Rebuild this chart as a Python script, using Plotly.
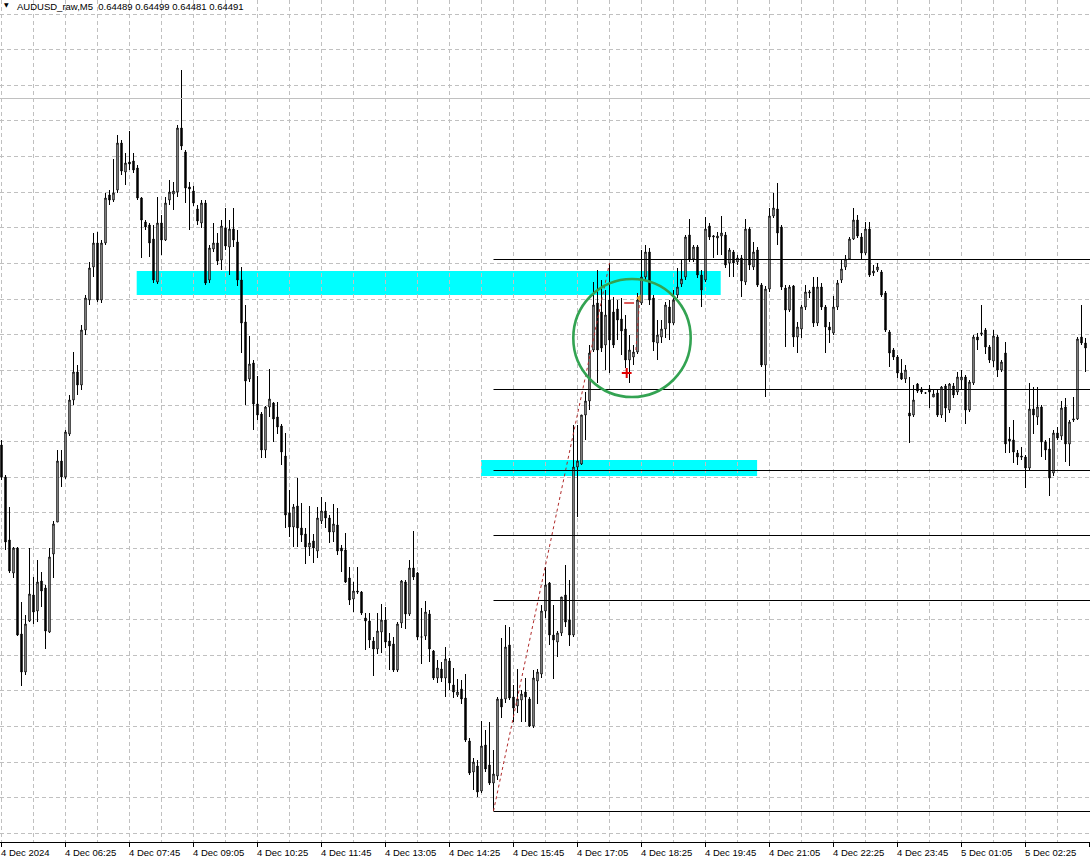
import plotly.graph_objects as go

# ---- data: AUDUSD M5 candles (bar index 0 = 4 Dec 05:05) ----
bar_index = list(range(272))

open_ = [
0.64555,0.64523,0.64460,0.64427,0.64452,0.64366,0.64328,0.64379,0.64405,0.64389,
0.64419,0.64412,0.64368,0.64446,0.64478,0.64539,0.64523,0.64566,0.64600,0.64628,
0.64615,0.64670,0.64700,0.64733,0.64757,0.64700,0.64757,0.64805,0.64800,0.64810,
0.64857,0.64828,0.64838,0.64839,0.64832,0.64802,0.64778,0.64775,0.64761,0.64718,
0.64777,0.64760,0.64800,0.64806,0.64808,0.64872,0.64848,0.64813,0.64809,0.64791,
0.64777,0.64797,0.64720,0.64751,0.64757,0.64740,0.64772,0.64753,0.64771,0.64758,
0.64720,0.64678,0.64621,0.64637,0.64596,0.64586,0.64550,0.64593,0.64597,0.64583,
0.64574,0.64544,0.64487,0.64473,0.64494,0.64472,0.64466,0.64453,0.64459,0.64449,
0.64479,0.64489,0.64482,0.64468,0.64475,0.64452,0.64450,0.64422,0.64401,0.64409,
0.64408,0.64382,0.64379,0.64359,0.64351,0.64368,0.64380,0.64359,0.64356,0.64330,
0.64377,0.64418,0.64386,0.64432,0.64427,0.64363,0.64364,0.64386,0.64349,0.64322,
0.64331,0.64322,0.64339,0.64315,0.64305,0.64311,0.64302,0.64259,0.64228,0.64234,
0.64209,0.64255,0.64235,0.64217,0.64224,0.64301,0.64301,0.64355,0.64303,0.64294,
0.64300,0.64308,0.64301,0.64274,0.64319,0.64326,0.64389,0.64417,0.64365,0.64358,
0.64367,0.64405,0.64380,0.64365,0.64533,0.64536,0.64585,0.64599,0.64650,0.64697,
0.64688,0.64655,0.64700,0.64688,0.64691,0.64681,0.64671,0.64640,0.64643,0.64648,
0.64697,0.64723,0.64748,0.64702,0.64657,0.64663,0.64671,0.64693,0.64677,0.64705,
0.64716,0.64723,0.64765,0.64741,0.64753,0.64725,0.64720,0.64774,0.64763,0.64762,
0.64764,0.64765,0.64737,0.64748,0.64738,0.64742,0.64718,0.64771,0.64733,0.64750,
0.64715,0.64635,0.64711,0.64784,0.64791,0.64773,0.64712,0.64690,0.64714,0.64663,
0.64671,0.64693,0.64707,0.64713,0.64677,0.64713,0.64693,0.64673,0.64667,0.64693,
0.64720,0.64733,0.64741,0.64761,0.64780,0.64763,0.64747,0.64771,0.64727,0.64730,
0.64728,0.64707,0.64668,0.64650,0.64643,0.64627,0.64621,0.64587,0.64585,0.64616,
0.64611,0.64607,0.64611,0.64603,0.64607,0.64585,0.64614,0.64590,0.64614,0.64608,
0.64620,0.64623,0.64590,0.64617,0.64663,0.64666,0.64670,0.64653,0.64639,0.64663,
0.64630,0.64647,0.64561,0.64560,0.64547,0.64544,0.64543,0.64532,0.64591,0.64583,
0.64593,0.64558,0.64551,0.64527,0.64567,0.64564,0.64593,0.64556,0.64580,0.64581,
0.64663,0.64657]

high = [
0.64560,0.64525,0.64493,0.64453,0.64453,0.64398,0.64385,0.64452,0.64423,0.64440,
0.64428,0.64415,0.64452,0.64479,0.64550,0.64550,0.64570,0.64605,0.64648,0.64635,
0.64675,0.64705,0.64738,0.64767,0.64768,0.64760,0.64807,0.64810,0.64841,0.64865,
0.64860,0.64847,0.64869,0.64847,0.64835,0.64803,0.64780,0.64777,0.64775,0.64803,
0.64785,0.64803,0.64820,0.64818,0.64875,0.64930,0.64850,0.64818,0.64814,0.64795,
0.64800,0.64800,0.64755,0.64777,0.64767,0.64780,0.64792,0.64780,0.64792,0.64770,
0.64733,0.64695,0.64664,0.64640,0.64624,0.64588,0.64594,0.64631,0.64598,0.64598,
0.64576,0.64567,0.64510,0.64496,0.64522,0.64497,0.64472,0.64494,0.64466,0.64493,
0.64503,0.64498,0.64485,0.64496,0.64492,0.64455,0.64467,0.64433,0.64418,0.64433,
0.64409,0.64387,0.64387,0.64363,0.64387,0.64396,0.64393,0.64367,0.64363,0.64378,
0.64420,0.64420,0.64440,0.64469,0.64428,0.64392,0.64399,0.64390,0.64350,0.64340,
0.64338,0.64353,0.64342,0.64332,0.64321,0.64320,0.64326,0.64262,0.64242,0.64240,
0.64279,0.64270,0.64278,0.64250,0.64303,0.64362,0.64375,0.64373,0.64315,0.64331,
0.64310,0.64322,0.64303,0.64330,0.64331,0.64395,0.64433,0.64418,0.64395,0.64369,
0.64403,0.64435,0.64420,0.64575,0.64575,0.64585,0.64608,0.64655,0.64718,0.64730,
0.64720,0.64710,0.64737,0.64703,0.64700,0.64702,0.64685,0.64665,0.64655,0.64707,
0.64750,0.64755,0.64752,0.64705,0.64680,0.64680,0.64698,0.64700,0.64710,0.64732,
0.64741,0.64765,0.64781,0.64755,0.64755,0.64730,0.64783,0.64777,0.64765,0.64768,
0.64784,0.64768,0.64752,0.64750,0.64745,0.64745,0.64781,0.64773,0.64758,0.64753,
0.64717,0.64714,0.64792,0.64807,0.64817,0.64775,0.64715,0.64715,0.64715,0.64678,
0.64695,0.64715,0.64710,0.64723,0.64723,0.64717,0.64695,0.64678,0.64704,0.64720,
0.64740,0.64745,0.64763,0.64792,0.64785,0.64767,0.64778,0.64778,0.64735,0.64737,
0.64730,0.64709,0.64670,0.64652,0.64645,0.64641,0.64635,0.64623,0.64615,0.64617,
0.64613,0.64608,0.64615,0.64610,0.64610,0.64614,0.64616,0.64617,0.64617,0.64628,
0.64630,0.64625,0.64620,0.64665,0.64667,0.64695,0.64672,0.64655,0.64670,0.64665,
0.64640,0.64658,0.64573,0.64580,0.64550,0.64553,0.64545,0.64617,0.64613,0.64613,
0.64595,0.64560,0.64562,0.64570,0.64573,0.64599,0.64602,0.64580,0.64603,0.64663,
0.64695,0.64662]

low = [
0.64520,0.64450,0.64427,0.64422,0.64364,0.64314,0.64325,0.64378,0.64376,0.64378,
0.64393,0.64351,0.64367,0.64422,0.64478,0.64513,0.64521,0.64564,0.64595,0.64605,
0.64610,0.64665,0.64695,0.64723,0.64698,0.64697,0.64755,0.64795,0.64798,0.64807,
0.64825,0.64815,0.64830,0.64827,0.64800,0.64742,0.64770,0.64743,0.64717,0.64716,
0.64745,0.64759,0.64795,0.64790,0.64803,0.64850,0.64797,0.64770,0.64794,0.64775,
0.64772,0.64715,0.64717,0.64748,0.64735,0.64730,0.64750,0.64725,0.64753,0.64714,
0.64647,0.64595,0.64618,0.64570,0.64580,0.64542,0.64542,0.64583,0.64558,0.64566,
0.64535,0.64472,0.64463,0.64453,0.64453,0.64458,0.64436,0.64444,0.64437,0.64442,
0.64476,0.64472,0.64457,0.64458,0.64445,0.64428,0.64417,0.64395,0.64388,0.64406,
0.64385,0.64350,0.64352,0.64324,0.64346,0.64347,0.64352,0.64330,0.64328,0.64328,
0.64372,0.64371,0.64384,0.64420,0.64360,0.64336,0.64360,0.64338,0.64320,0.64317,
0.64318,0.64303,0.64310,0.64302,0.64303,0.64296,0.64258,0.64225,0.64210,0.64203,
0.64207,0.64228,0.64215,0.64189,0.64220,0.64282,0.64297,0.64300,0.64278,0.64287,
0.64278,0.64278,0.64273,0.64272,0.64296,0.64322,0.64382,0.64355,0.64321,0.64343,
0.64364,0.64373,0.64354,0.64363,0.64483,0.64535,0.64560,0.64590,0.64648,0.64617,
0.64648,0.64630,0.64627,0.64652,0.64660,0.64645,0.64632,0.64617,0.64635,0.64646,
0.64695,0.64720,0.64695,0.64649,0.64640,0.64657,0.64662,0.64660,0.64675,0.64702,
0.64713,0.64720,0.64738,0.64738,0.64722,0.64693,0.64718,0.64760,0.64742,0.64745,
0.64745,0.64732,0.64723,0.64723,0.64735,0.64703,0.64715,0.64730,0.64730,0.64713,
0.64633,0.64603,0.64708,0.64782,0.64755,0.64710,0.64653,0.64688,0.64653,0.64647,
0.64662,0.64690,0.64702,0.64673,0.64674,0.64690,0.64647,0.64657,0.64665,0.64690,
0.64717,0.64730,0.64740,0.64760,0.64762,0.64741,0.64745,0.64723,0.64724,0.64728,
0.64703,0.64668,0.64633,0.64640,0.64622,0.64620,0.64617,0.64557,0.64583,0.64607,
0.64606,0.64606,0.64592,0.64603,0.64583,0.64582,0.64578,0.64587,0.64602,0.64605,
0.64610,0.64576,0.64588,0.64615,0.64650,0.64664,0.64646,0.64637,0.64633,0.64623,
0.64628,0.64547,0.64547,0.64537,0.64535,0.64540,0.64512,0.64530,0.64566,0.64575,
0.64543,0.64540,0.64504,0.64524,0.64560,0.64560,0.64538,0.64534,0.64578,0.64580,
0.64655,0.64628]

close = [
0.64523,0.64458,0.64429,0.64452,0.64365,0.64328,0.64376,0.64406,0.64388,0.64418,
0.64409,0.64369,0.64443,0.64476,0.64539,0.64523,0.64568,0.64600,0.64628,0.64615,
0.64670,0.64702,0.64732,0.64757,0.64700,0.64757,0.64802,0.64800,0.64807,0.64857,
0.64829,0.64837,0.64836,0.64830,0.64802,0.64780,0.64773,0.64757,0.64720,0.64777,
0.64760,0.64797,0.64808,0.64809,0.64872,0.64854,0.64812,0.64811,0.64797,0.64779,
0.64797,0.64717,0.64752,0.64757,0.64739,0.64774,0.64754,0.64771,0.64760,0.64720,
0.64677,0.64619,0.64636,0.64596,0.64585,0.64550,0.64593,0.64601,0.64581,0.64573,
0.64548,0.64485,0.64473,0.64493,0.64472,0.64465,0.64453,0.64457,0.64452,0.64482,
0.64489,0.64482,0.64468,0.64476,0.64449,0.64449,0.64418,0.64400,0.64409,0.64408,
0.64387,0.64379,0.64360,0.64351,0.64369,0.64380,0.64358,0.64354,0.64330,0.64376,
0.64419,0.64386,0.64432,0.64423,0.64363,0.64363,0.64388,0.64351,0.64322,0.64332,
0.64322,0.64341,0.64317,0.64308,0.64308,0.64301,0.64260,0.64227,0.64238,0.64208,
0.64254,0.64231,0.64217,0.64226,0.64301,0.64293,0.64353,0.64302,0.64292,0.64301,
0.64306,0.64303,0.64274,0.64322,0.64328,0.64389,0.64415,0.64365,0.64360,0.64367,
0.64403,0.64378,0.64365,0.64533,0.64539,0.64585,0.64599,0.64647,0.64695,0.64650,
0.64652,0.64685,0.64660,0.64655,0.64680,0.64669,0.64640,0.64650,0.64648,0.64700,
0.64723,0.64748,0.64700,0.64658,0.64665,0.64671,0.64695,0.64677,0.64700,0.64713,
0.64721,0.64763,0.64741,0.64753,0.64725,0.64710,0.64771,0.64763,0.64764,0.64764,
0.64767,0.64735,0.64750,0.64737,0.64742,0.64719,0.64771,0.64735,0.64748,0.64715,
0.64635,0.64711,0.64784,0.64792,0.64767,0.64713,0.64690,0.64713,0.64663,0.64673,
0.64693,0.64708,0.64708,0.64677,0.64713,0.64693,0.64673,0.64670,0.64693,0.64717,
0.64731,0.64741,0.64761,0.64780,0.64764,0.64747,0.64771,0.64725,0.64729,0.64733,
0.64705,0.64670,0.64647,0.64643,0.64627,0.64621,0.64630,0.64584,0.64600,0.64609,
0.64608,0.64607,0.64608,0.64606,0.64585,0.64613,0.64592,0.64616,0.64605,0.64623,
0.64623,0.64590,0.64618,0.64663,0.64660,0.64667,0.64653,0.64640,0.64664,0.64630,
0.64638,0.64556,0.64559,0.64548,0.64543,0.64543,0.64532,0.64591,0.64585,0.64593,
0.64558,0.64550,0.64522,0.64567,0.64562,0.64592,0.64556,0.64578,0.64581,0.64661,
0.64657,0.64652]

tick_bars = list(range(0, 272, 16))
tick_labels = ["4 Dec 2024", "4 Dec 06:25", "4 Dec 07:45", "4 Dec 09:05", "4 Dec 10:25",
               "4 Dec 11:45", "4 Dec 13:05", "4 Dec 14:25", "4 Dec 15:45", "4 Dec 17:05",
               "4 Dec 18:25", "4 Dec 19:45", "4 Dec 21:05", "4 Dec 22:25", "4 Dec 23:45",
               "5 Dec 01:05", "5 Dec 02:25"]

title_text = "AUDUSD_raw,M5  0.64489 0.64499 0.64481 0.64491"

# horizontal line objects (start bar, price)
level_start_bar = 123
level_prices = [0.647405, 0.646105, 0.645295, 0.644645, 0.643995, 0.641885]
silver_line_price = 0.649015

# cyan zones: (bar from, bar to, price low, price high)
zones = [(33.8, 179.8, 0.64705, 0.64729),
         (119.9, 188.9, 0.64524, 0.64540)]

# green ellipse bounds
circle_bars = (142.95, 172.3)
circle_prices = (0.64603, 0.64721)

# trade history lines and arrows
trade1_bars = [123, 152]
trade1_prices = [0.64189, 0.64737]
trade2_bars = [158.6, 159.6]
trade2_prices = [0.64650, 0.64703]
plus_marker = (156.3, 0.64627)
dash_marker = (156.9, 0.64697)
close_arrow = (159.4, 0.64702)

GRID = '#c0c0c0'
FONT = 'Liberation Sans'

fig = go.Figure()
fig.add_trace(go.Candlestick(
    x=bar_index, open=open_, high=high, low=low, close=close,
    increasing=dict(line=dict(color='black', width=1), fillcolor='white'),
    decreasing=dict(line=dict(color='black', width=1), fillcolor='black'),
    whiskerwidth=0, hoverinfo='skip', showlegend=False))

fig.add_trace(go.Scatter(x=trade1_bars, y=trade1_prices, mode='lines',
                         line=dict(color='#b02a2a', width=1, dash='dot'),
                         hoverinfo='skip', showlegend=False))
fig.add_trace(go.Scatter(x=trade2_bars, y=trade2_prices, mode='lines',
                         line=dict(color='#b02a2a', width=1, dash='dot'),
                         hoverinfo='skip', showlegend=False))
fig.add_trace(go.Scatter(x=[plus_marker[0]], y=[plus_marker[1]], mode='markers',
                         marker=dict(symbol='cross-thin', size=7, line=dict(color='#e00000', width=2)),
                         hoverinfo='skip', showlegend=False))
fig.add_trace(go.Scatter(x=[dash_marker[0]], y=[dash_marker[1]], mode='markers',
                         marker=dict(symbol='line-ew', size=7, line=dict(color='#d02020', width=1.5)),
                         hoverinfo='skip', showlegend=False))
fig.add_trace(go.Scatter(x=[close_arrow[0]], y=[close_arrow[1]], mode='markers',
                         marker=dict(symbol='triangle-left', size=6, color='#e0a030'),
                         hoverinfo='skip', showlegend=False))

shapes = []
for x0, x1, p0, p1 in zones:
    shapes.append(dict(type='rect', xref='x', yref='y', x0=x0, x1=x1, y0=p0, y1=p1,
                       fillcolor='#00ffff', line=dict(width=0), layer='below'))
shapes.append(dict(type='line', xref='paper', yref='y', x0=0, x1=1,
                   y0=silver_line_price, y1=silver_line_price,
                   line=dict(color='#c0c0c0', width=1), layer='above'))
for p in level_prices:
    shapes.append(dict(type='line', xref='x', yref='y', x0=level_start_bar, x1=272.2,
                       y0=p, y1=p, line=dict(color='black', width=1), layer='above'))
shapes.append(dict(type='circle', xref='x', yref='y', x0=circle_bars[0], x1=circle_bars[1],
                   y0=circle_prices[0], y1=circle_prices[1],
                   line=dict(color='#33a352', width=2.6), layer='above'))

annotations = []
for b, t in zip(tick_bars, tick_labels):
    annotations.append(dict(x=b, y=0, xref='x', yref='paper', text=t, showarrow=False,
                            xanchor='left', yanchor='top', xshift=-3, yshift=-3,
                            font=dict(family=FONT, size=9.5, color='black')))
annotations.append(dict(x=0, y=1, xref='paper', yref='paper', text=title_text, showarrow=False,
                        xanchor='left', yanchor='top', xshift=15, yshift=1,
                        font=dict(family=FONT, size=9.5, color='black')))
annotations.append(dict(x=0, y=1, xref='paper', yref='paper', text='▼', showarrow=False,
                        xanchor='left', yanchor='top', xshift=2, yshift=1,
                        font=dict(family='DejaVu Sans', size=6, color='black')))

fig.update_layout(
    width=1090, height=868,
    margin=dict(l=0, r=0, t=0, b=26),
    paper_bgcolor='white', plot_bgcolor='white',
    boxgap=0.5,
    shapes=shapes, annotations=annotations,
    xaxis=dict(range=[-0.375, 272.125], tickmode='linear', tick0=0, dtick=16,
               showticklabels=False, ticks='outside', ticklen=4, tickcolor='black',
               showline=True, linecolor='black', linewidth=1,
               showgrid=True, gridcolor=GRID, gridwidth=1, griddash='4px,3px',
               minor=dict(dtick=8, tick0=0, showgrid=True, gridcolor=GRID,
                          gridwidth=1, griddash='4px,3px'),
               zeroline=False, rangeslider=dict(visible=False), fixedrange=True),
    yaxis=dict(range=[0.64158, 0.65000], tickmode='linear', tick0=0.64986, dtick=0.0003563,
               showticklabels=False, showgrid=True, gridcolor=GRID, gridwidth=1,
               griddash='4px,3px', zeroline=False, showline=False, fixedrange=True),
)

fig.write_html("out.html", config={'displayModeBar': False},
               post_script="document.body.style.margin='0';document.body.style.overflow='hidden';")
